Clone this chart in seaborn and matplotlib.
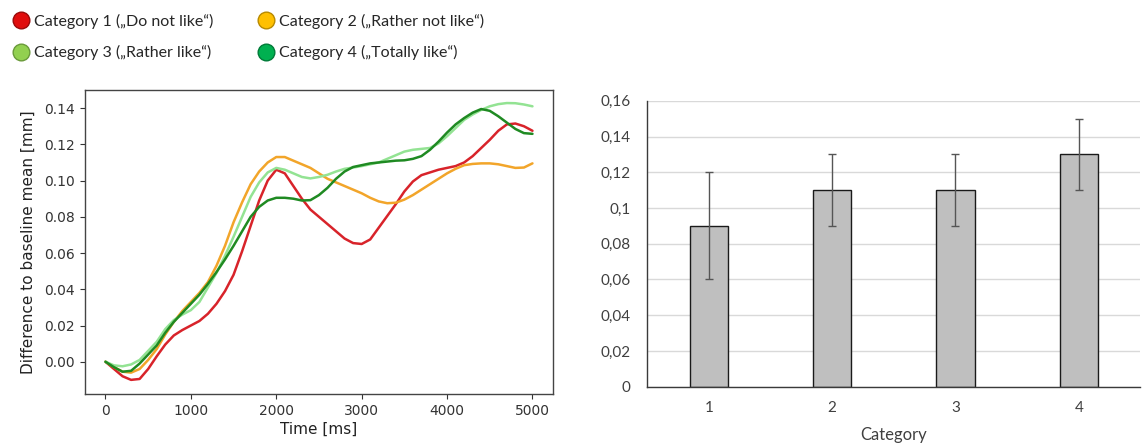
import matplotlib
matplotlib.use("Agg")
import matplotlib.pyplot as plt
from matplotlib.lines import Line2D
import seaborn as sns
import pandas as pd

# ---------------- data ----------------
time_ms = list(range(0, 5001, 100))

cat1 = [0.000, -0.0040, -0.0080, -0.0100, -0.0095, -0.0040, 0.0030, 0.0095, 0.0145, 0.0175,
        0.0200, 0.0225, 0.0265, 0.0320, 0.0390, 0.0480, 0.0610, 0.0750, 0.0890, 0.1000,
        0.1060, 0.1040, 0.0970, 0.0900, 0.0840, 0.0800, 0.0760, 0.0720, 0.0680, 0.0655,
        0.0650, 0.0675, 0.0740, 0.0805, 0.0870, 0.0940, 0.0995, 0.1030, 0.1045, 0.1060,
        0.1070, 0.1080, 0.1100, 0.1135, 0.1180, 0.1225, 0.1275, 0.1310, 0.1315, 0.1300,
        0.1275]
cat2 = [0.000, -0.0030, -0.0055, -0.0060, -0.0040, 0.0010, 0.0070, 0.0150, 0.0220, 0.0280,
        0.0330, 0.0380, 0.0440, 0.0530, 0.0640, 0.0770, 0.0880, 0.0980, 0.1050, 0.1100,
        0.1130, 0.1130, 0.1110, 0.1090, 0.1070, 0.1040, 0.1010, 0.0990, 0.0970, 0.0950,
        0.0930, 0.0905, 0.0885, 0.0875, 0.0878, 0.0895, 0.0920, 0.0950, 0.0980, 0.1010,
        0.1040, 0.1065, 0.1085, 0.1092, 0.1095, 0.1095, 0.1090, 0.1080, 0.1070, 0.1072,
        0.1095]
cat3 = [0.000, -0.0020, -0.0025, -0.0015, 0.0010, 0.0060, 0.0110, 0.0180, 0.0230, 0.0260,
        0.0285, 0.0330, 0.0410, 0.0490, 0.0585, 0.0690, 0.0800, 0.0910, 0.0990, 0.1045,
        0.1070, 0.1060, 0.1040, 0.1020, 0.1012, 0.1020, 0.1032, 0.1050, 0.1065, 0.1072,
        0.1080, 0.1090, 0.1100, 0.1120, 0.1140, 0.1160, 0.1170, 0.1175, 0.1180, 0.1205,
        0.1245, 0.1290, 0.1335, 0.1365, 0.1390, 0.1410, 0.1422, 0.1428, 0.1427, 0.1420,
        0.1410]
cat4 = [0.000, -0.0030, -0.0055, -0.0050, -0.0010, 0.0040, 0.0090, 0.0160, 0.0220, 0.0270,
        0.0320, 0.0370, 0.0430, 0.0495, 0.0565, 0.0640, 0.0720, 0.0800, 0.0855, 0.0890,
        0.0905, 0.0905, 0.0900, 0.0890, 0.0892, 0.0920, 0.0960, 0.1010, 0.1050, 0.1075,
        0.1085, 0.1095, 0.1100, 0.1105, 0.1110, 0.1112, 0.1120, 0.1135, 0.1170, 0.1215,
        0.1265, 0.1310, 0.1345, 0.1375, 0.1395, 0.1385, 0.1355, 0.1320, 0.1285, 0.1262,
        0.1258]

legend_labels = ["Category 1 (\u201eDo not like\u201c)", "Category 2 (\u201eRather not like\u201c)",
                 "Category 3 (\u201eRather like\u201c)", "Category 4 (\u201eTotally like\u201c)"]

bar_categories = ["1", "2", "3", "4"]
bar_means = [0.09, 0.11, 0.11, 0.13]
bar_errors = [0.03, 0.02, 0.02, 0.02]
bar_yticks = [0, 0.02, 0.04, 0.06, 0.08, 0.10, 0.12, 0.14, 0.16]
bar_yticklabels = ["0", "0,02", "0,04", "0,06", "0,08", "0,1", "0,12", "0,14", "0,16"]

line_colors = ["#d8232a", "#f2a52a", "#93e393", "#1f8a22"]
legend_face = ["#e00d0d", "#ffc000", "#92d050", "#00b050"]
legend_edge = ["#9a0a0a", "#b88a00", "#6a9a3a", "#007a38"]

# ---------------- figure ----------------
sns.set_style("ticks")
plt.rcParams["font.family"] = ["DejaVu Sans"]

fig = plt.figure(figsize=(11.42, 4.46), dpi=100)

# left: time course
rows = []
for lab, vals in zip(legend_labels, [cat1, cat2, cat3, cat4]):
    for t, v in zip(time_ms, vals):
        rows.append({"Time": t, "Value": v, "Category": lab})
df = pd.DataFrame(rows)

ax1 = fig.add_axes([0.0744, 0.1166, 0.4098, 0.6816])
sns.lineplot(data=df, x="Time", y="Value", hue="Category", hue_order=legend_labels,
             palette=line_colors, linewidth=1.8, legend=False, ax=ax1)
ax1.set_xticks([0, 1000, 2000, 3000, 4000, 5000])
ax1.set_yticks([0.00, 0.02, 0.04, 0.06, 0.08, 0.10, 0.12, 0.14])
ax1.yaxis.set_major_formatter(matplotlib.ticker.FormatStrFormatter("%.2f"))
ax1.set_xlim(-240, 5240)
ax1.set_ylim(-0.0178, 0.1500)
ax1.set_xlabel("Time [ms]", fontsize=11, color="#222222", labelpad=3)
ax1.set_ylabel("Difference to baseline mean [mm]", fontsize=11, color="#222222", labelpad=6)
ax1.tick_params(labelsize=10, colors="#333333", length=3.5)
for s in ax1.spines.values():
    s.set_color("#444444")
    s.set_linewidth(1.0)

# right: bar chart
ax2 = fig.add_axes([0.5666, 0.133, 0.4320, 0.641])
sns.barplot(x=bar_categories, y=bar_means, color="#bfbfbf", edgecolor="#1a1a1a",
            linewidth=1.0, width=0.31, errorbar=None, saturation=1, ax=ax2)
ax2.errorbar(range(len(bar_categories)), bar_means, yerr=bar_errors, fmt="none",
             ecolor="#555555", elinewidth=1.0, capsize=3, capthick=1.0, zorder=4)
ax2.set_xlim(-0.5, 3.5)
ax2.set_ylim(0, 0.16)
ax2.set_yticks(bar_yticks)
ax2.set_yticklabels(bar_yticklabels)
ax2.yaxis.grid(True, color="#d9d9d9", linewidth=1.0)
ax2.set_axisbelow(True)
for side in ["top", "right"]:
    ax2.spines[side].set_visible(False)
for side in ["left", "bottom"]:
    ax2.spines[side].set_color("#3a3a3a")
    ax2.spines[side].set_linewidth(1.0)
ax2.tick_params(axis="both", length=0, labelsize=11, colors="#404040")
ax2.tick_params(axis="x", pad=10)
ax2.tick_params(axis="y", pad=12)
for lbl in ax2.get_xticklabels() + ax2.get_yticklabels():
    lbl.set_fontfamily(["Lato", "DejaVu Sans"])
ax2.set_xlabel("Category", fontsize=12, color="#404040", family=["Lato", "DejaVu Sans"], labelpad=9)
ax2.set_ylabel("")

# legend (row-major order: 1, 2 on first row; 3, 4 on second row)
handles = [Line2D([], [], linestyle="none", marker="o", markersize=12,
                  markerfacecolor=fc, markeredgecolor=ec, markeredgewidth=1.0)
           for fc, ec in zip(legend_face, legend_edge)]
order = [0, 2, 1, 3]
fig.legend([handles[i] for i in order], [legend_labels[i] for i in order],
           loc="upper left", bbox_to_anchor=(0.0, 1.0),
           ncol=2, frameon=False, handlelength=0.9, handletextpad=0.35,
           columnspacing=2.9, labelspacing=1.05, borderpad=0.35,
           prop={"family": ["Lato", "DejaVu Sans"], "size": 11.5})

fig.savefig("out.png", dpi=100)
